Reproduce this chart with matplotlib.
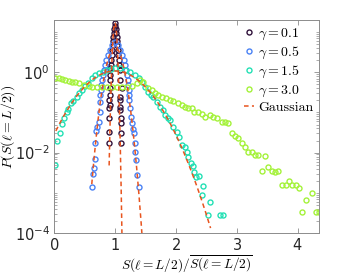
import numpy as np
import matplotlib
matplotlib.use('Agg')
import matplotlib.pyplot as plt
from matplotlib.ticker import FixedLocator, NullFormatter, LogFormatterMathtext

plt.rcParams['mathtext.fontset'] = 'cm'
plt.rcParams['axes.formatter.use_mathtext'] = True

# gamma = 0.1
x_g01 = [1.0, 1.0, 0.984, 1.016, 0.984, 1.016, 0.967, 1.033, 0.967, 1.033, 0.967, 1.033,
         0.951, 1.049, 0.951, 1.049, 0.934, 1.066, 0.934, 1.066,
         0.918, 0.918, 0.918, 0.918, 0.918, 0.902, 0.918, 0.902, 0.902, 0.902, 0.902,
         1.082, 1.082, 1.115, 1.082, 1.082, 1.082, 1.082, 1.098, 1.098, 1.098, 1.098]
p_g01 = [17.2, 14.5, 12.2, 12.2, 9.72, 9.72, 7.74, 7.74, 6.17, 6.17, 4.64, 4.64,
         3.49, 3.49, 2.63, 2.63, 1.98, 1.98, 1.49, 1.49,
         1.26, 0.843, 0.634, 0.403, 0.27, 0.204, 0.153, 0.129, 0.0731, 0.033, 0.0177,
         1.12, 0.634, 0.403, 0.241, 0.204, 0.137, 0.115, 0.0731, 0.0551, 0.0312, 0.0177]

# gamma = 0.5
x_g05 = [1.0, 0.951, 0.918, 0.885, 0.852, 0.836, 0.82, 0.803, 0.787, 0.77, 0.77, 0.754,
         0.754, 0.754, 0.738, 0.705, 0.689, 0.672, 0.672, 0.656, 0.639, 0.623,
         1.049, 1.082, 1.115, 1.148, 1.164, 1.18, 1.197, 1.213, 1.213, 1.23, 1.23,
         1.23, 1.246, 1.262, 1.279, 1.295, 1.311, 1.328, 1.328, 1.344, 1.361, 1.393]
p_g05 = [5.51, 4.64, 3.49, 2.63, 1.98, 1.49, 1.12, 0.843, 0.634, 0.478, 0.36, 0.27,
         0.182, 0.103, 0.0582, 0.0439, 0.0349, 0.0177, 0.00711, 0.00426, 0.00286, 0.00137,
         4.64, 3.49, 2.63, 1.98, 1.49, 1.12, 0.843, 0.634, 0.478, 0.36, 0.27,
         0.204, 0.129, 0.0774, 0.0551, 0.0392, 0.0312, 0.0177, 0.0106, 0.00671, 0.0027, 0.00137]

# gamma = 1.5
x_g15 = [0.016, 0.049, 0.098, 0.131, 0.164, 0.213, 0.23, 0.279, 0.311, 0.377, 0.41, 0.459,
         0.508, 0.557, 0.623, 0.672, 0.738, 0.803, 0.869, 0.934, 1.0, 1.082, 1.164, 1.246,
         1.328, 1.393, 1.443, 1.492, 1.541, 1.59, 1.623, 1.689, 1.738, 1.787, 1.82, 1.869,
         1.902, 1.951, 2.016, 2.049, 2.098, 2.148, 2.18, 2.197, 2.246, 2.279, 2.295, 2.328,
         2.377, 2.426, 2.443, 2.525, 2.557, 2.721, 2.77]
p_g15 = [0.00506, 0.0198, 0.0312, 0.052, 0.0731, 0.103, 0.122, 0.172, 0.192, 0.241, 0.303, 0.36,
         0.451, 0.535, 0.711, 0.843, 0.944, 1.0, 1.12, 1.19, 1.26, 1.26, 1.12, 1.0,
         0.843, 0.711, 0.567, 0.426, 0.321, 0.27, 0.241, 0.182, 0.137, 0.115, 0.0867, 0.0731,
         0.0653, 0.0439, 0.033, 0.0248, 0.0158, 0.0141, 0.0106, 0.00796, 0.00566, 0.00478, 0.00321, 0.00241,
         0.00255, 0.000867, 0.00145, 0.000278, 0.000582, 0.000278, 0.000278]

# gamma = 3.0
x_g30 = [0.016, 0.082, 0.131, 0.18, 0.246, 0.295, 0.344, 0.41, 0.49, 0.574, 0.623, 0.705,
         0.787, 0.869, 0.951, 1.033, 1.115, 1.197, 1.279, 1.361, 1.41, 1.459, 1.541, 1.607,
         1.656, 1.705, 1.77, 1.836, 1.902, 1.951, 2.033, 2.098, 2.148, 2.197, 2.262, 2.295,
         2.361, 2.426, 2.475, 2.557, 2.607, 2.672, 2.754, 2.803, 2.852, 2.918, 2.967, 3.016,
         3.082, 3.131, 3.18, 3.246, 3.295, 3.344, 3.41, 3.459, 3.508, 3.574, 3.623, 3.672,
         3.738, 3.803, 3.852, 3.902, 3.967, 4.016, 4.066, 4.131, 4.23, 4.295, 4.344]
p_g30 = [0.71, 0.71, 0.67, 0.63, 0.60, 0.57, 0.57, 0.535, 0.478, 0.451, 0.426, 0.426,
         0.426, 0.426, 0.426, 0.426, 0.426, 0.426, 0.451, 0.535, 0.63, 0.57, 0.403, 0.36,
         0.303, 0.27, 0.241, 0.228, 0.204, 0.192, 0.172, 0.153, 0.137, 0.129, 0.129, 0.103,
         0.103, 0.092, 0.0774, 0.0867, 0.0774, 0.0731, 0.0582, 0.0582, 0.0551, 0.0312, 0.0263, 0.0234,
         0.0177, 0.0141, 0.0106, 0.0106, 0.00893, 0.00893, 0.0034, 0.00843, 0.00451, 0.0034, 0.00321, 0.0034,
         0.00153, 0.00153, 0.00192, 0.00153, 0.00153, 0.00129, 0.00033, 0.00065, 0.00097, 0.00033, 0.00033]

labels = [r'$\gamma = 0.1$', r'$\gamma = 0.5$', r'$\gamma = 1.5$', r'$\gamma = 3.0$']
colors = ['#30123b', '#4a82f5', '#22e0b4', '#a4f23a']

# Gaussian fits (mean, sigma, plotted range)
gauss_mu = [1.0, 1.0, 1.0]
gauss_sigma = [0.0235, 0.096, 0.37]
gauss_lo = [0.905, 0.62, 0.03]
gauss_hi = [1.2, 1.6, 2.57]
gauss_color = '#e8541e'

fig = plt.figure(figsize=(3.53, 2.75), dpi=100)
ax = fig.add_axes([54 / 353, 1 - 233 / 275, 265 / 353, 213 / 275])

series = [(x_g01, p_g01), (x_g05, p_g05), (x_g15, p_g15), (x_g30, p_g30)]
for (xs, ps), lab, c in zip(series, labels, colors):
    ax.plot(xs, ps, 'o', ms=3.6, mfc='none', mec=c, mew=1.0, label=lab)

for i in range(len(gauss_mu)):
    xx = np.linspace(gauss_lo[i], gauss_hi[i], 400)
    yy = np.exp(-(xx - gauss_mu[i]) ** 2 / (2 * gauss_sigma[i] ** 2)) / (gauss_sigma[i] * np.sqrt(2 * np.pi))
    ax.plot(xx, yy, '--', color=gauss_color, lw=1.1, dashes=(3, 2.2),
            label='Gaussian' if i == 0 else None)

ax.set_yscale('log')
ax.set_xlim(0, 4.35)
ax.set_ylim(1e-4, 20)

ax.set_xticks([0, 1, 2, 3, 4])
ax.yaxis.set_major_locator(FixedLocator([1e-4, 1e-2, 1e0]))
ax.yaxis.set_major_formatter(LogFormatterMathtext())
minor = [m * 10.0 ** k for k in range(-4, 2) for m in range(1, 10)]
minor = [v for v in minor if v not in (1e-4, 1e-2, 1.0)]
ax.yaxis.set_minor_locator(FixedLocator(minor))
ax.yaxis.set_minor_formatter(NullFormatter())

ax.tick_params(which='both', direction='in', top=True, right=True, colors='0.55',
               labelcolor='#262626', labelsize=10.5)
ax.tick_params(which='major', length=3.5, width=0.6, pad=3)
ax.tick_params(which='minor', length=2, width=0.5)
for s in ax.spines.values():
    s.set_color('0.55')
    s.set_linewidth(0.7)

ax.set_xlabel(r'$S(\ell=L/2)/\overline{S(\ell=L/2)}$', fontsize=9.6)
ax.set_ylabel(r'$P(S(\ell=L/2))$', fontsize=10)
ax.xaxis.set_label_coords(0.5, -0.1)
ax.yaxis.set_label_coords(-0.138, 0.5)

leg = ax.legend(loc='upper right', frameon=False, fontsize=10, numpoints=1, handlelength=0.7,
                handletextpad=0.3, labelspacing=0.2, borderaxespad=0.1, borderpad=0.3)
leg.get_texts()[-1].set_fontfamily('cmr10')

fig.savefig('out.png', dpi=100)
